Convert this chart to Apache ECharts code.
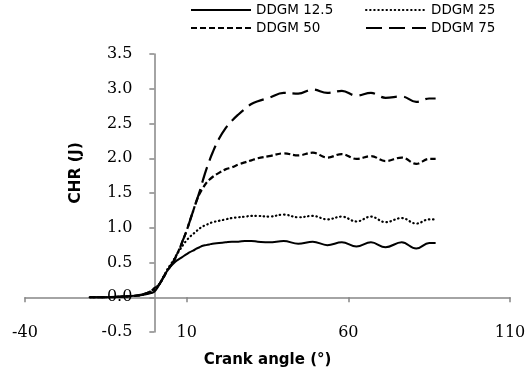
<!DOCTYPE html>
<html>
<head>
<meta charset="utf-8">
<script src="https://cdn.jsdelivr.net/npm/echarts@6/dist/echarts.min.js"></script>
<style>
  html, body { margin: 0; padding: 0; background: #fff; }
  #chart { width: 526px; height: 377px; }
</style>
</head>
<body>
<div id="chart"></div>
<script>
// Crank angle samples (degrees) shared by all four curves
const crankAngle = [-20, -15, -10, -6, -3, -1, 0, 1, 2, 3, 4, 5, 6, 7, 8, 9, 10, 11, 12, 13, 14, 15, 16, 17, 18,
  20, 22, 24, 26, 28, 30, 32, 35.5, 40, 44.5, 49, 53.5, 58, 62.5, 67, 71.5, 76.5, 81, 85, 87];

// Cumulative heat release (J) for each blend
const ddgm12_5 = [0, 0, 0.01, 0.02, 0.04, 0.06, 0.08, 0.14, 0.22, 0.31, 0.38, 0.44, 0.49, 0.53, 0.56, 0.59, 0.62, 0.65, 0.67, 0.70, 0.72, 0.74, 0.75, 0.76, 0.77,
  0.78, 0.79, 0.80, 0.80, 0.81, 0.81, 0.80, 0.79, 0.81, 0.77, 0.80, 0.75, 0.79, 0.73, 0.79, 0.72, 0.79, 0.70, 0.78, 0.78];
const ddgm25 = [0, 0, 0.01, 0.02, 0.04, 0.07, 0.10, 0.15, 0.22, 0.31, 0.40, 0.47, 0.54, 0.62, 0.69, 0.76, 0.82, 0.87, 0.91, 0.95, 0.99, 1.02, 1.04, 1.06, 1.08,
  1.10, 1.12, 1.14, 1.15, 1.16, 1.17, 1.17, 1.16, 1.19, 1.15, 1.17, 1.12, 1.16, 1.09, 1.16, 1.08, 1.14, 1.06, 1.12, 1.12];
const ddgm50 = [0, 0, 0.01, 0.02, 0.05, 0.09, 0.13, 0.16, 0.22, 0.30, 0.38, 0.45, 0.52, 0.62, 0.72, 0.84, 0.96, 1.10, 1.24, 1.38, 1.49, 1.57, 1.64, 1.69, 1.73,
  1.79, 1.84, 1.87, 1.91, 1.94, 1.97, 2.00, 2.03, 2.07, 2.04, 2.08, 2.01, 2.06, 1.99, 2.03, 1.96, 2.01, 1.92, 1.99, 1.99];
const ddgm75 = [0, 0, 0.01, 0.02, 0.05, 0.09, 0.13, 0.16, 0.22, 0.30, 0.38, 0.45, 0.52, 0.62, 0.72, 0.84, 0.96, 1.10, 1.24, 1.38, 1.52, 1.68, 1.83, 1.96, 2.08,
  2.28, 2.43, 2.54, 2.63, 2.71, 2.78, 2.82, 2.87, 2.94, 2.93, 2.99, 2.94, 2.97, 2.90, 2.94, 2.87, 2.89, 2.81, 2.86, 2.86];

const seriesNames = ['DDGM 12.5', 'DDGM 25', 'DDGM 50', 'DDGM 75'];
const xTicks = { min: -40, max: 110, step: 50 };
const yTicks = { min: -0.5, max: 3.5, step: 0.5 };

const pairs = ys => crankAngle.map((x, i) => [x, ys[i]]);
const axisGray = '#868686';
const tickFont = 'DejaVu Serif';
const titleFont = 'DejaVu Sans';

const lineStyles = [
  { width: 2, type: 'solid' },
  { width: 2.2, type: [0.5, 3.6], cap: 'round' },
  { width: 2.2, type: [6, 3] },
  { width: 2.2, type: [16, 7] }
];
const valuesList = [ddgm12_5, ddgm25, ddgm50, ddgm75];

const legendSpots = [
  { left: 190, top: 3 },
  { left: 365, top: 3 },
  { left: 190, top: 21 },
  { left: 365, top: 21 }
];
const gridBox = { left: 25, right: 16, top: 54, bottom: 45 };

const chart = echarts.init(document.getElementById('chart'), null, { renderer: 'canvas' });
chart.setOption({
  animation: false,
  backgroundColor: '#fff',
  grid: Object.assign({ containLabel: false, outerBoundsMode: 'none' }, gridBox),
  legend: seriesNames.map((name, i) => ({
    data: [name],
    left: legendSpots[i].left,
    top: legendSpots[i].top,
    itemWidth: 60,
    itemHeight: 12,
    itemGap: 0,
    padding: 0,
    selectedMode: false,
    itemStyle: { opacity: 0 },
    textStyle: { fontFamily: titleFont, fontSize: 13.5, color: '#000' }
  })),
  xAxis: [
    {
      // axis line crossing at CHR = 0
      type: 'value',
      min: xTicks.min, max: xTicks.max, interval: xTicks.step,
      position: 'bottom',
      axisLine: { show: true, onZero: true, onZeroAxisIndex: 0, lineStyle: { color: axisGray, width: 1.5 } },
      axisTick: { show: true, length: 5, lineStyle: { color: axisGray, width: 1.5 } },
      axisLabel: { show: false },
      splitLine: { show: false }
    },
    {
      // labels along the lower edge of the plot
      type: 'value',
      min: xTicks.min, max: xTicks.max, interval: xTicks.step,
      position: 'bottom',
      axisLine: { show: false, onZero: false },
      axisTick: { show: false },
      splitLine: { show: false },
      axisLabel: { fontFamily: tickFont, fontSize: 16, color: '#000', margin: 1, verticalAlign: 'middle' },
      name: 'Crank angle (°)',
      nameLocation: 'middle',
      nameGap: 28,
      nameTextStyle: { fontFamily: titleFont, fontWeight: 'bold', fontSize: 15, color: '#000', verticalAlign: 'middle' }
    }
  ],
  yAxis: {
    type: 'value',
    min: yTicks.min, max: yTicks.max, interval: yTicks.step,
    position: 'left',
    axisLine: { show: true, onZero: false, lineStyle: { color: axisGray, width: 1.5 } },
    axisTick: { show: true, length: 5, lineStyle: { color: axisGray, width: 1.5 } },
    splitLine: { show: false },
    axisLabel: { fontFamily: tickFont, fontSize: 16, color: '#000', margin: 22, formatter: v => v.toFixed(1) },
    name: 'CHR (J)',
    nameLocation: 'middle',
    nameGap: 70,
    nameTextStyle: { fontFamily: titleFont, fontWeight: 'bold', fontSize: 15.5, color: '#000', padding: [0, 0, 0, 40] }
  },
  series: seriesNames.map((name, i) => ({
    name,
    type: 'line',
    xAxisIndex: 0,
    yAxisIndex: 0,
    data: pairs(valuesList[i]),
    showSymbol: false,
    symbol: 'none',
    smooth: 0.4,
    color: '#000',
    lineStyle: Object.assign({ color: '#000' }, lineStyles[i]),
    z: 4 - i
  }))
});

// The vertical axis (with its labels and title) sits where crank angle = 0
const zeroPx = chart.convertToPixel({ xAxisIndex: 0 }, 0);
chart.setOption({ yAxis: { offset: gridBox.left - zeroPx } });
</script>
</body>
</html>
